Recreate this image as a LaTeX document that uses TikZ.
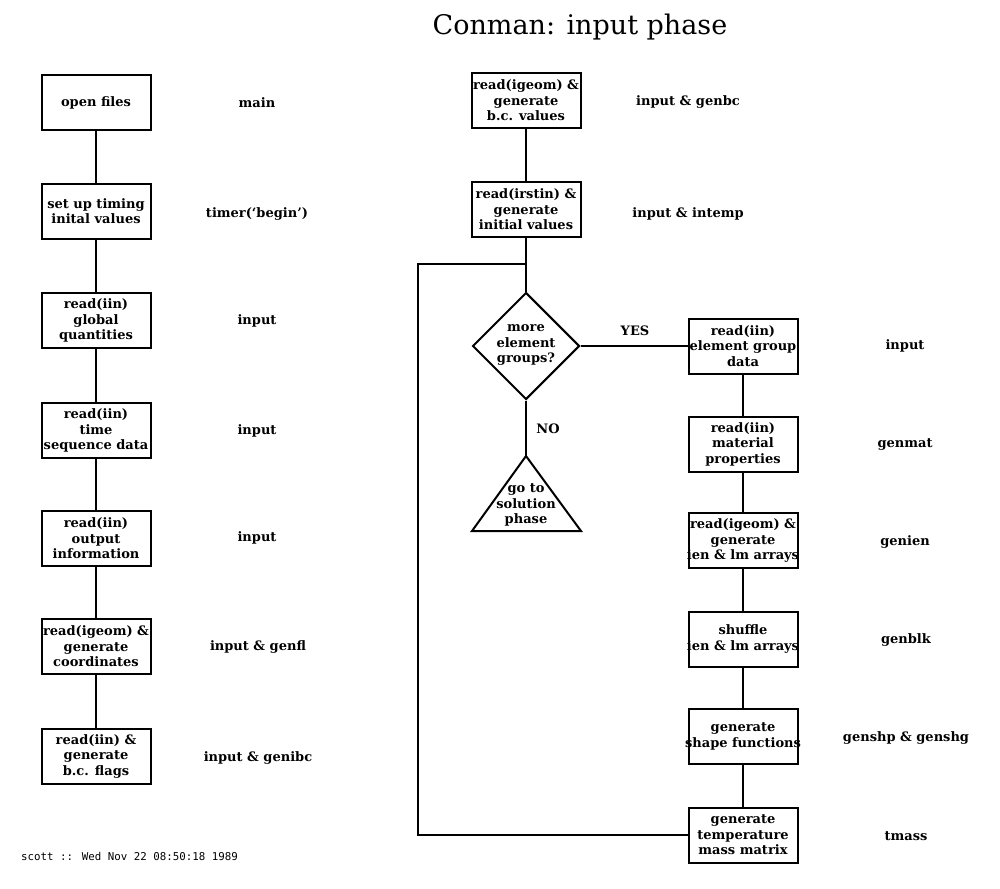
\documentclass[tikz,border=0pt]{standalone}
\usepackage{fontspec}
\setmainfont{DejaVu Serif}
\newfontfamily\footfont{DejaVu Sans Mono}
\usetikzlibrary{shapes.geometric}
\newcommand\boxfont{\bfseries\fontsize{13}{15.5}\selectfont}
\tikzset{
  box/.style={draw, line width=2pt, minimum width=109pt, minimum height=55pt, inner sep=0pt},
  lbl/.style={font=\boxfont, inner sep=0pt, align=center},
  link/.style={line width=2pt}
}
% box of fixed size with its text laid over it (text may overhang, as in the reference)
\newcommand\stepnode[3]{\node[box] (#1) at (#2) {}; \node[lbl] (#1t) at (#1) {#3};}
\begin{document}
\begin{tikzpicture}[x=1pt,y=-1pt]
\useasboundingbox (0,0) rectangle (1000,888);
% title
\node[font=\fontsize{27}{30}\selectfont, inner sep=0pt] (title) at (580,27) {Conman: input phase};
% left column
\stepnode{L1}{96,102.5}{open files}
\stepnode{L2}{96,211}{set up timing\\inital values}
\stepnode{L3}{96,320.5}{read(iin)\\global\\quantities}
\stepnode{L4}{96,430.5}{read(iin)\\time\\sequence data}
\stepnode{L5}{96,538.5}{read(iin)\\output\\information}
\stepnode{L6}{96,646.5}{read(igeom) \&\\generate\\coordinates}
\stepnode{L7}{96,756}{read(iin) \&\\generate\\b.c. flags}
\foreach \a/\b in {L1/L2,L2/L3,L3/L4,L4/L5,L5/L6,L6/L7} \draw[link] (\a) -- (\b);
\node[lbl] (l1) at (257,103) {main};
\node[lbl] (l2) at (257,214) {timer(`begin')};
\node[lbl] (l3) at (257,321) {input};
\node[lbl] (l4) at (257,431) {input};
\node[lbl] (l5) at (257,538) {input};
\node[lbl] (l6) at (258,647) {input \& genfl};
\node[lbl] (l7) at (258,758) {input \& genibc};
% right upper column
\stepnode{A}{526,100.5}{read(igeom) \&\\generate\\b.c. values}
\stepnode{B}{526,209.5}{read(irstin) \&\\generate\\initial values}
\node[lbl] (la) at (688,102) {input \& genbc};
\node[lbl] (lb) at (688,214) {input \& intemp};
\draw[link] (A) -- (B);
\coordinate (jn) at (526,264);
\coordinate (loopc) at (418,264);
% decision
\node[diamond, draw, line width=2pt, minimum width=107pt, minimum height=107pt, inner sep=0pt] (dia) at (526,346) {};
\node[lbl] (diat) at (526,345) {more\\element\\groups?};
\draw[link] (B.south) -- (dia.north);
% terminator triangle
\coordinate (tri) at (526,456);
\coordinate (trir) at (581,531);
\coordinate (tril) at (472,531);
\draw[link] (tri) -- (trir) -- (tril) -- cycle;
\node[lbl] (trit) at (526,505) {go to\\solution\\phase};
\draw[link] (dia.south) -- (tri);
\node[lbl] (no) at (548,429) {NO};
% right column
\stepnode{C}{743,346}{read(iin)\\element group\\data}
\stepnode{D}{743,444}{read(iin)\\material\\properties}
\stepnode{E}{743,540.5}{read(igeom) \&\\generate\\ien \& lm arrays}
\stepnode{F}{743,639}{shuffle\\ien \& lm arrays}
\stepnode{G}{743,736.5}{generate\\shape functions}
\stepnode{H}{743,835}{generate\\temperature\\mass matrix}
\foreach \a/\b in {C/D,D/E,E/F,F/G,G/H} \draw[link] (\a) -- (\b);
\draw[link] (dia.east) -- (C.west);
\node[lbl] (yes) at (635,331) {YES};
\draw[link] (H.west) -| (loopc) -- (jn);
\node[lbl] (lc) at (905,346) {input};
\node[lbl] (ld) at (905,445) {genmat};
\node[lbl] (le) at (905,542) {genien};
\node[lbl] (lf) at (906,640) {genblk};
\node[lbl] (lg) at (906,738) {genshp \& genshg};
\node[lbl] (lh) at (906,836) {tmass};
% footer
\node[font=\footfont\fontsize{10.8}{12}\selectfont, inner sep=0pt, anchor=west] (foot) at (21,856) {scott :: Wed Nov 22 08:50:18 1989};
\end{tikzpicture}
\end{document}
